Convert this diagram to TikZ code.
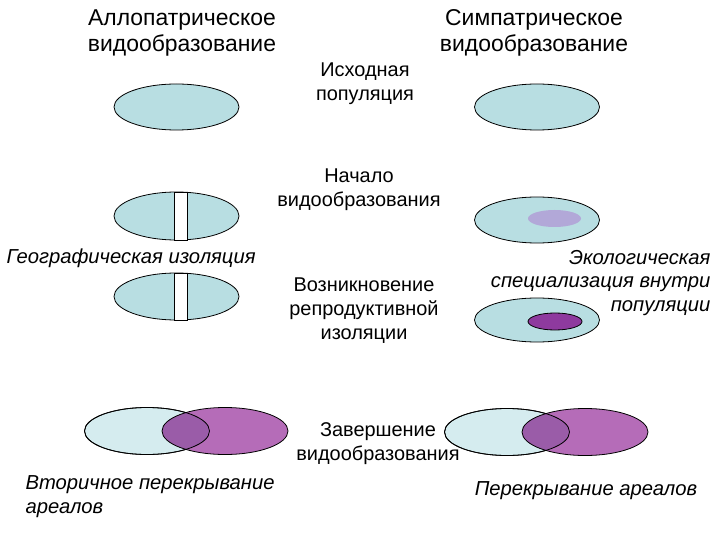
\documentclass[tikz,border=0pt]{standalone}
\usepackage{fontspec}
\setmainfont{Liberation Sans}
\usepackage{tikz}
\usetikzlibrary{positioning}

\definecolor{popfill}{HTML}{B8DEE2}
\definecolor{palefill}{HTML}{D5ECEF}
\definecolor{purplefill}{HTML}{B56CB8}
\definecolor{overlapfill}{HTML}{9A5CA8}
\definecolor{nichelight}{HTML}{B2A8D8}
\definecolor{nichedark}{HTML}{8E3A9E}

\begin{document}
\begin{tikzpicture}[x=1bp,y=-1bp,
    pop/.style={draw=black,fill=popfill,line width=0.8pt},
    title/.style={align=center,font=\fontsize{23}{26}\selectfont},
    label/.style={align=center,font=\fontsize{20}{24}\selectfont},
    note/.style={font=\fontsize{20.3}{24}\selectfont\itshape}]
    \useasboundingbox (0,0) rectangle (720,540);

    % Headings
    \node[title] (allo) at (182,33) {Аллопатрическое\\видообразование};
    \node[title] (sym) at (534,33) {Симпатрическое\\видообразование};

    % Source population
    \draw[pop] (176.5,107) ellipse (62.5 and 23);
    \draw[pop] (537,107) ellipse (62.5 and 23);
    \node[label] (src) at (365,84) {Исходная\\популяция};

    % Start of speciation
    \draw[pop] (176.5,216) ellipse (62.5 and 24);
    \draw[fill=white,line width=0.8pt] (174,192) rectangle (187,240);
    \draw[pop] (537,220) ellipse (62.5 and 23);
    \fill[nichelight] (554.5,218.5) ellipse (26.5 and 8.5);
    \node[label] (start) at (359,190) {Начало\\видообразования};

    % Geographic isolation / ecological niche
    \node[note,anchor=west] (geo) at (3,258) {Географическая изоляция};
    \node[note,align=right,anchor=east] (eco) at (714,283)
        {Экологическая\\специализация внутри\\популяции};

    % Reproductive isolation
    \draw[pop] (176.5,296.5) ellipse (62.5 and 23.5);
    \draw[fill=white,line width=0.8pt] (174,273) rectangle (187,320);
    \draw[pop] (537,320) ellipse (62.5 and 22);
    \draw[fill=nichedark,line width=0.8pt] (555,321.5) ellipse (27 and 8.5);
    \node[label] (repro) at (364,311) {Возникновение\\репродуктивной\\изоляции};

    % End of speciation, left
    \draw[fill=palefill,line width=0.8pt] (147,431) ellipse (62.5 and 23.5);
    \fill[purplefill] (225,431) ellipse (63 and 23.5);
    \begin{scope}
        \clip (147,431) ellipse (62.5 and 23.5);
        \fill[overlapfill] (225,431) ellipse (63 and 23.5);
    \end{scope}
    \draw[line width=0.8pt] (147,431) ellipse (62.5 and 23.5);
    \draw[line width=0.8pt] (225,431) ellipse (63 and 23.5);

    % End of speciation, right
    \draw[fill=palefill,line width=0.8pt] (507,432) ellipse (62.5 and 23.5);
    \fill[purplefill] (585,432) ellipse (63 and 23.5);
    \begin{scope}
        \clip (507,432) ellipse (62.5 and 23.5);
        \fill[overlapfill] (585,432) ellipse (63 and 23.5);
    \end{scope}
    \draw[line width=0.8pt] (507,432) ellipse (62.5 and 23.5);
    \draw[line width=0.8pt] (585,432) ellipse (63 and 23.5);
    \node[label] (finish) at (378,444) {Завершение\\видообразования};

    % Range overlap
    \node[note,align=left,anchor=west] (second) at (22,497) {Вторичное перекрывание\\ареалов};
    \node[note] (overlap) at (586,491) {Перекрывание ареалов};
\end{tikzpicture}
\end{document}
